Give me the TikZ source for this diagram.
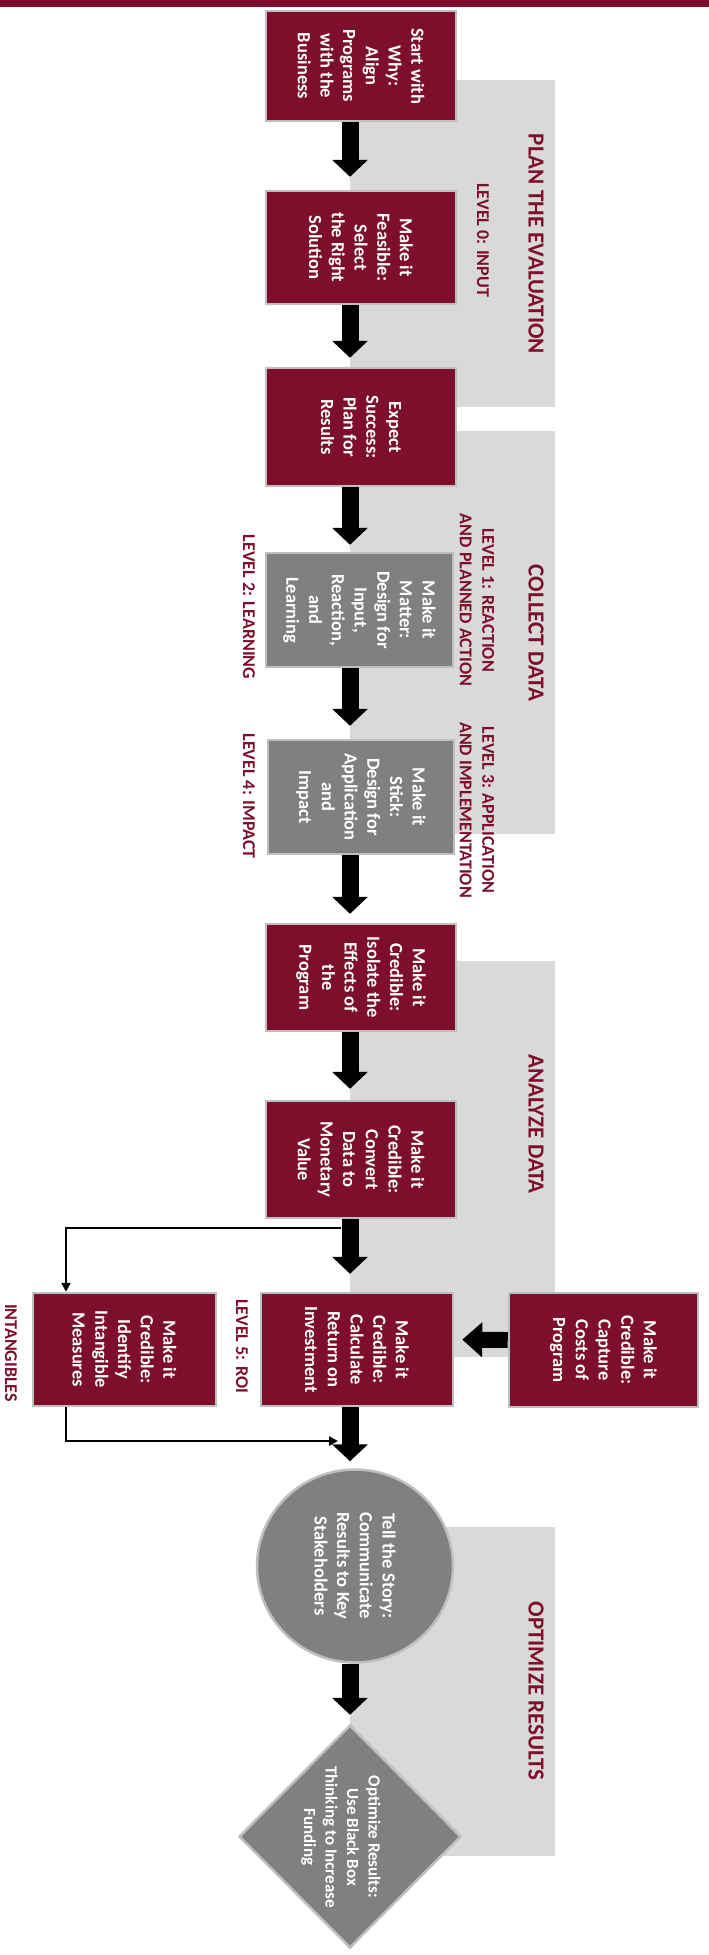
\documentclass[tikz,border=0pt]{standalone}
\usepackage{fontspec}
\setmainfont{Carlito}
\usetikzlibrary{arrows.meta,shapes.geometric}
\definecolor{maroon}{HTML}{7D0F2D}
\definecolor{boxgray}{HTML}{808080}
\definecolor{panelgray}{HTML}{D9D9D9}
\definecolor{edgegray}{HTML}{BFBFBF}
\begin{document}
\begin{tikzpicture}[x=1pt,y=-1pt,
  redbox/.style={draw=edgegray,line width=2.5pt,fill=maroon,inner sep=0pt},
  graybox/.style={draw=edgegray,line width=2.5pt,fill=boxgray,inner sep=0pt},
  boxtext/.style={rotate=-90,align=center,text=white,font=\fontsize{18.5}{22.7}\selectfont\bfseries,inner sep=0pt},
  paneltitle/.style={rotate=-90,text=maroon,font=\fontsize{23}{27}\selectfont\bfseries,inner sep=0pt},
  leveltext/.style={rotate=-90,align=center,text=maroon,font=\fontsize{18}{22.6}\selectfont\bfseries,inner sep=0pt},
  bigarrow/.style={line width=17pt,-{Triangle[width=35pt,length=17pt]}},
  thinarrow/.style={line width=2.5pt,-{Triangle[width=9pt,length=9pt]}},
]
\useasboundingbox (0,0) rectangle (709,1955);
\fill[white] (0,0) rectangle (709,1955);
% top bar
\fill[maroon] (0,0) rectangle (709,7);
% panels
\fill[panelgray] (350,80) rectangle (555,407);
\fill[panelgray] (350,431) rectangle (555,834);
\fill[panelgray] (350,961) rectangle (555,1357);
\fill[panelgray] (350,1527) rectangle (555,1856);
\coordinate (ax) at (350,0);
\coordinate (tx) at (66,0);
% boxes
\node[redbox, minimum width=190pt, minimum height=110pt] (b1) at (361,66) {};
\node[redbox, minimum width=190pt, minimum height=113pt] (b2) at (361,247.5) {};
\node[redbox, minimum width=190pt, minimum height=118pt] (b3) at (361,427) {};
\node[graybox, minimum width=187pt, minimum height=114pt] (b4) at (359.5,610) {};
\node[graybox, minimum width=186pt, minimum height=114pt] (b5) at (361,797) {};
\node[redbox, minimum width=190pt, minimum height=107pt] (b6) at (361,977.5) {};
\node[redbox, minimum width=190pt, minimum height=117pt] (b7) at (361,1159.5) {};
\node[redbox, minimum width=192pt, minimum height=113pt] (b8) at (357,1349.5) {};
\node[redbox, minimum width=189pt, minimum height=114pt] (b9) at (603.5,1350) {};
\node[redbox, minimum width=183pt, minimum height=113pt] (b10) at (124.5,1349.5) {};
\node[graybox, ellipse, minimum width=196pt, minimum height=193pt] (circ) at (355,1566) {};
\node[graybox, diamond, minimum width=222pt, minimum height=223pt] (dia) at (350,1836.5) {};
% box texts
\node[boxtext] (t1) at (b1) {Start with\\Why:\\Align\\Programs\\with the\\Business};
\node[boxtext] (t2) at (b2) {Make it\\Feasible:\\Select\\the Right\\Solution};
\node[boxtext] (t3) at (b3) {Expect\\Success:\\Plan for\\Results};
\node[boxtext] (t4) at (b4) {Make it\\Matter:\\Design for\\Input,\\Reaction,\\and\\Learning};
\node[boxtext] (t5) at (b5) {Make it\\Stick:\\Design for\\Application\\and\\Impact};
\node[boxtext] (t6) at (b6) {Make it\\Credible:\\Isolate the\\Effects of\\the\\Program};
\node[boxtext] (t7) at (b7) {Make it\\Credible:\\Convert\\Data to\\Monetary\\Value};
\node[boxtext] (t8) at (b8) {Make it\\Credible:\\Calculate\\Return on\\Investment};
\node[boxtext] (t9) at (b9) {Make it\\Credible:\\Capture\\Costs of\\Program};
\node[boxtext] (t10) at (b10) {Make it\\Credible:\\Identify\\Intangible\\Measures};
\node[boxtext] (tc) at (circ) {Tell the Story:\\Communicate\\Results to Key\\Stakeholders};
\node[boxtext, font=\fontsize{17}{21.5}\selectfont\bfseries] (td) at (341,1837) {Optimize Results:\\Use Black Box\\Thinking to Increase\\Funding};
% labels
\node[paneltitle] (p1) at (536,244) {PLAN THE EVALUATION};
\node[leveltext] (l0) at (483,240) {LEVEL 0: INPUT};
\node[paneltitle] (p2) at (536,633) {COLLECT DATA};
\node[leveltext] (l1) at (477,600) {LEVEL 1: REACTION\\AND PLANNED ACTION};
\node[leveltext] (l2) at (249,607) {LEVEL 2: LEARNING};
\node[leveltext] (l3) at (477,810) {LEVEL 3: APPLICATION\\AND IMPLEMENTATION};
\node[leveltext] (l4) at (249,796) {LEVEL 4: IMPACT};
\node[paneltitle] (p3) at (536,1124) {ANALYZE DATA};
\node[leveltext] (l5) at (242,1346) {LEVEL 5: ROI};
\node[leveltext] (li) at (11,1353) {INTANGIBLES};
\node[paneltitle] (p4) at (536,1691) {OPTIMIZE RESULTS};
% big arrows
\draw[bigarrow, shorten >=13pt] (b1.south -| ax) -- (b2.north -| ax);
\draw[bigarrow, shorten >=9pt] (b2.south -| ax) -- (b3.north -| ax);
\draw[bigarrow, shorten >=7pt] (b3.south -| ax) -- (b4.north -| ax);
\draw[bigarrow, shorten >=13pt] (b4.south -| ax) -- (b5.north -| ax);
\draw[bigarrow, shorten >=9pt] (b5.south -| ax) -- (b6.north -| ax);
\draw[bigarrow, shorten >=11pt] (b6.south -| ax) -- (b7.north -| ax);
\draw[bigarrow, shorten >=18pt] (b7.south -| ax) -- (b8.north -| ax);
\draw[bigarrow, shorten >=7pt] (b8.south -| ax) -- (circ.north -| ax);
\draw[bigarrow, shorten >=9pt] (circ.south -| ax) -- (dia.north);
\draw[line width=16pt,-{Triangle[width=34pt,length=20pt]}, shorten >=8pt] ([yshift=10pt]b9.west) -- ([yshift=10pt]b8.east);
% thin arrows
\coordinate (s1) at (341,1228);
\coordinate (s2) at (338,1441);
\draw[thinarrow] (s1) -| (b10.north -| tx);
\draw[thinarrow] (b10.south -| tx) |- (s2);
\end{tikzpicture}
\end{document}
